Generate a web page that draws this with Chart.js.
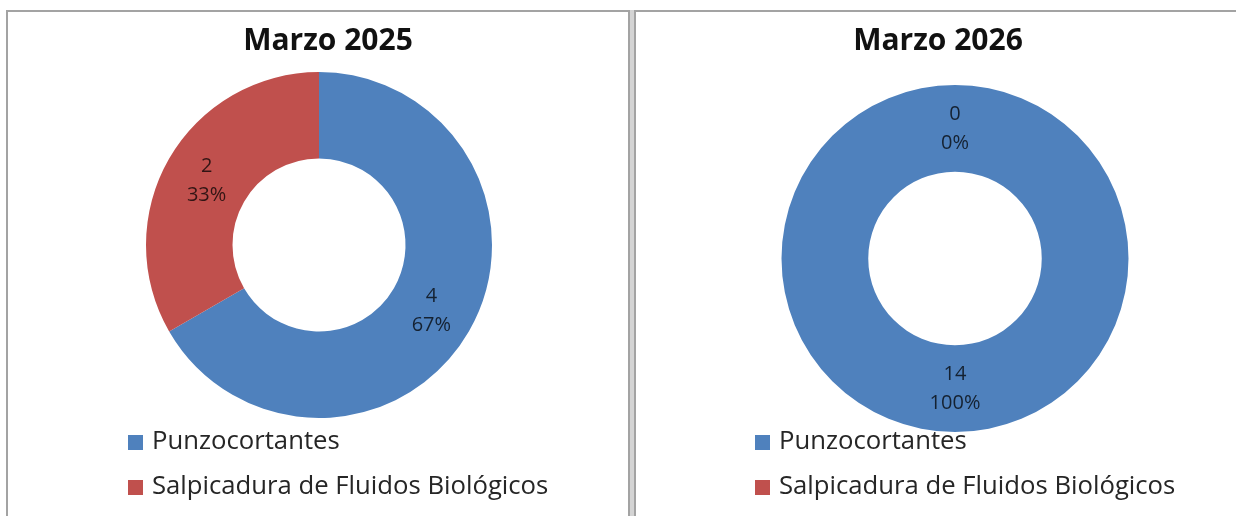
<!DOCTYPE html>
<html>
<head>
<meta charset="utf-8">
<script src="https://cdn.jsdelivr.net/npm/chart.js@4/dist/chart.umd.min.js"></script>
<style>
  body { margin: 0; background: #fff; width: 1236px; height: 516px; overflow: hidden; position: relative; font-family: "Open Sans", sans-serif; }
  .panel { position: absolute; top: 10px; height: 520px; border: 2px solid #a3a3a3; box-sizing: border-box; background: #fff; }
  .hueco { position: absolute; left: 630px; top: 10px; width: 4px; height: 520px; background: #d4d4d4; }
  .lienzo { position: absolute; left: 0; top: 0; }
  .titulo { position: absolute; top: 9px; width: 300px; height: 36px; line-height: 36px; text-align: center; font-size: 30px; font-weight: bold; color: #111; white-space: nowrap; }
  .leyenda { position: absolute; top: 413px; }
  .item { position: absolute; left: 0; height: 30px; line-height: 30px; white-space: nowrap; font-size: 25.7px; color: #262626; }
  .cuadro { position: absolute; left: 0; top: 10px; width: 15px; height: 15px; }
  .item span { position: absolute; left: 24px; top: 0; }
</style>
</head>
<body>
<div class="hueco"></div>
<div class="panel" id="p1" style="left:6px; width:624px;">
  <div class="lienzo" style="width:620px; height:496px;"><canvas id="grafica1"></canvas></div>
  <div class="titulo" id="tit1" style="left:170px;"></div>
  <div class="leyenda" id="ley1" style="left:120px;"></div>
</div>
<div class="panel" id="p2" style="left:634px; width:610px;">
  <div class="lienzo" style="width:606px; height:496px;"><canvas id="grafica2"></canvas></div>
  <div class="titulo" id="tit2" style="left:152px;"></div>
  <div class="leyenda" id="ley2" style="left:119px;"></div>
</div>
<script>
const categorias = ["Punzocortantes", "Salpicadura de Fluidos Biológicos"];
const valores2025 = [4, 2];
const valores2026 = [14, 0];
const titulos = ["Marzo 2025", "Marzo 2026"];
const colores = ["#4F81BD", "#C0504D"];

// etiquetas de valor y porcentaje dentro del anillo
const etiquetas = {
  id: "etiquetas",
  afterDatasetsDraw(chart) {
    const ctx = chart.ctx;
    const datos = chart.data.datasets[0].data;
    const total = datos.reduce((a, b) => a + b, 0);
    chart.getDatasetMeta(0).data.forEach((arco, i) => {
      const p = arco.getProps(["x", "y", "startAngle", "endAngle", "innerRadius", "outerRadius"], true);
      const ang = (p.startAngle + p.endAngle) / 2;
      const r = (p.innerRadius + p.outerRadius) / 2;
      const x = p.x + Math.cos(ang) * r;
      const y = p.y + Math.sin(ang) * r;
      ctx.save();
      ctx.font = "20px 'Open Sans'";
      ctx.fillStyle = "rgba(0,0,0,0.74)";
      ctx.textAlign = "center";
      ctx.textBaseline = "middle";
      ctx.fillText(String(datos[i]), x, y - 14);
      ctx.fillText(Math.round(datos[i] / total * 100) + "%", x, y + 15);
      ctx.restore();
    });
  }
};

const pintarDona = (id, valores, relleno) => {
  new Chart(document.getElementById(id), {
    type: "doughnut",
    data: {
      labels: categorias,
      datasets: [{ data: valores, backgroundColor: colores, borderWidth: 0, hoverOffset: 0 }]
    },
    options: {
      responsive: true,
      maintainAspectRatio: false,
      animation: false,
      cutout: "50%",
      layout: { padding: relleno },
      plugins: {
        legend: { display: false },
        tooltip: { enabled: false },
        title: { display: false }
      }
    },
    plugins: [etiquetas]
  });
};

const pintarLeyenda = (id) => {
  const cont = document.getElementById(id);
  categorias.forEach((cat, i) => {
    const fila = document.createElement("div");
    fila.className = "item";
    fila.style.top = (i * 45) + "px";
    fila.innerHTML = '<div class="cuadro" style="background:' + colores[i] + '"></div><span>' + cat + "</span>";
    cont.appendChild(fila);
  });
};

document.getElementById("tit1").textContent = titulos[0];
document.getElementById("tit2").textContent = titulos[1];
pintarDona("grafica1", valores2025, { top: 60, bottom: 90, left: 2, right: 0 });
pintarDona("grafica2", valores2026, { top: 73, bottom: 76, left: 32, right: 0 });
pintarLeyenda("ley1");
pintarLeyenda("ley2");
</script>
</body>
</html>
